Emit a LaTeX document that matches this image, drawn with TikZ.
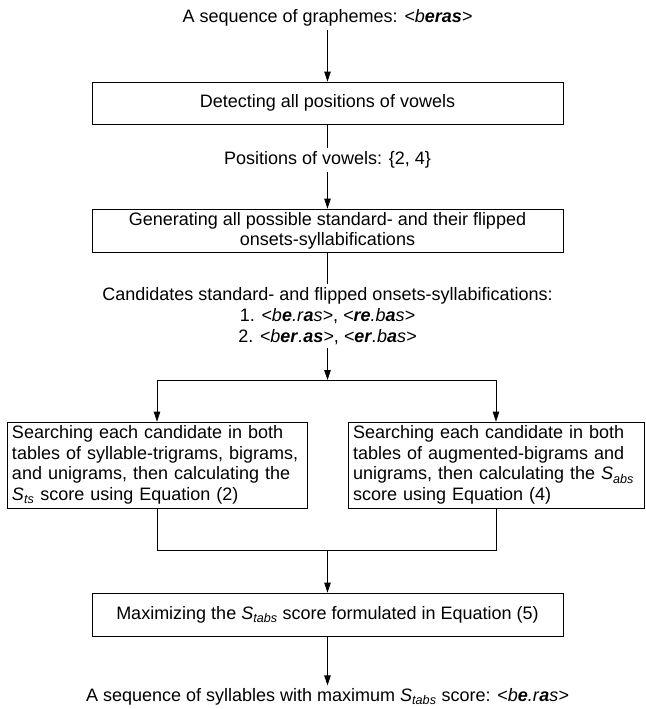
\documentclass[tikz,border=0pt]{standalone}
\usepackage{fontspec}
\setmainfont{Liberation Sans}
\usetikzlibrary{arrows.meta}
\newcommand{\Sv}[1]{\textit{S}\textsubscript{\textit{#1}}}
\newcommand{\bi}[1]{\textbf{\textit{#1}}}
\begin{document}
\begin{tikzpicture}[x=1pt,y=-1pt,
  font=\fontsize{18}{21}\selectfont,
  box/.style={draw, line width=0.75pt, minimum width=471pt, minimum height=43pt, inner sep=0pt, align=center, font=\fontsize{18}{20}\selectfont},
  sidebox/.style={draw, line width=0.75pt, minimum height=86pt, inner xsep=5pt, inner ysep=0pt, align=left, font=\fontsize{18}{20.5}\selectfont},
  lbl/.style={inner sep=3pt, align=center},
  arr/.style={-{Triangle[length=10pt,width=6.5pt]}, line width=0.75pt},
  ln/.style={line width=0.75pt}]
\useasboundingbox (0,0) rectangle (645,709);

\node[lbl] (title) at (327.5,18) {A sequence of graphemes: \textit{<b}\bi{eras}\textit{>}};
\node[box, minimum height=42pt] (b1) at (327.5,103) {Detecting all positions of vowels};
\node[lbl] (pos) at (327.5,160) {Positions of vowels: \{2, 4\}};
\node[box] (b2) at (327.5,230.5) {Generating all possible standard- and their flipped\\onsets-syllabifications};
\node[lbl] (cand) at (327.5,316) {Candidates standard- and flipped onsets-syllabifications:\\
  1. \textit{<b}\bi{e}\textit{.r}\bi{a}\textit{s>}, \textit{<}\bi{re}\textit{.b}\bi{a}\textit{s>}\\
  2. \textit{<b}\bi{er}\textit{.}\bi{as}\textit{>}, \textit{<}\bi{er}\textit{.b}\bi{a}\textit{s>}};
\coordinate (j1) at (327.5,380);
\coordinate (jl) at (157,380);
\coordinate (jr) at (496,380);
\node[sidebox, text width=290pt] (ls) at (157,465) {Searching each candidate in both\\tables of syllable-trigrams, bigrams,\\and unigrams, then calculating the\\\Sv{ts} score using Equation (2)};
\node[sidebox, text width=286pt] (rs) at (496,465) {Searching each candidate in both\\tables of augmented-bigrams and\\unigrams, then calculating the \Sv{abs}\\score using Equation (4)};
\coordinate (kl) at (157,550);
\coordinate (kr) at (496,550);
\coordinate (j2) at (327.5,550);
\node[box] (b5) at (327.5,614.5) {Maximizing the \Sv{tabs} score formulated in Equation (5)};
\node[lbl] (fin) at (327.5,697) {A sequence of syllables with maximum \Sv{tabs} score: \textit{<b}\bi{e}\textit{.r}\bi{a}\textit{s>}};

\draw[arr] (title) -- (b1);
\draw[ln] (b1) -- (pos);
\draw[arr] (pos) -- (b2);
\draw[ln] (b2) -- (cand);
\draw[arr] (cand) -- (j1);
\draw[ln] (jl) -- (jr);
\draw[arr] (jl) -- (ls);
\draw[arr] (jr) -- (rs);
\draw[ln] (ls) -- (kl) -- (kr) -- (rs);
\draw[arr] (j2) -- (b5);
\draw[arr] (b5) -- (fin);
\end{tikzpicture}
\end{document}
